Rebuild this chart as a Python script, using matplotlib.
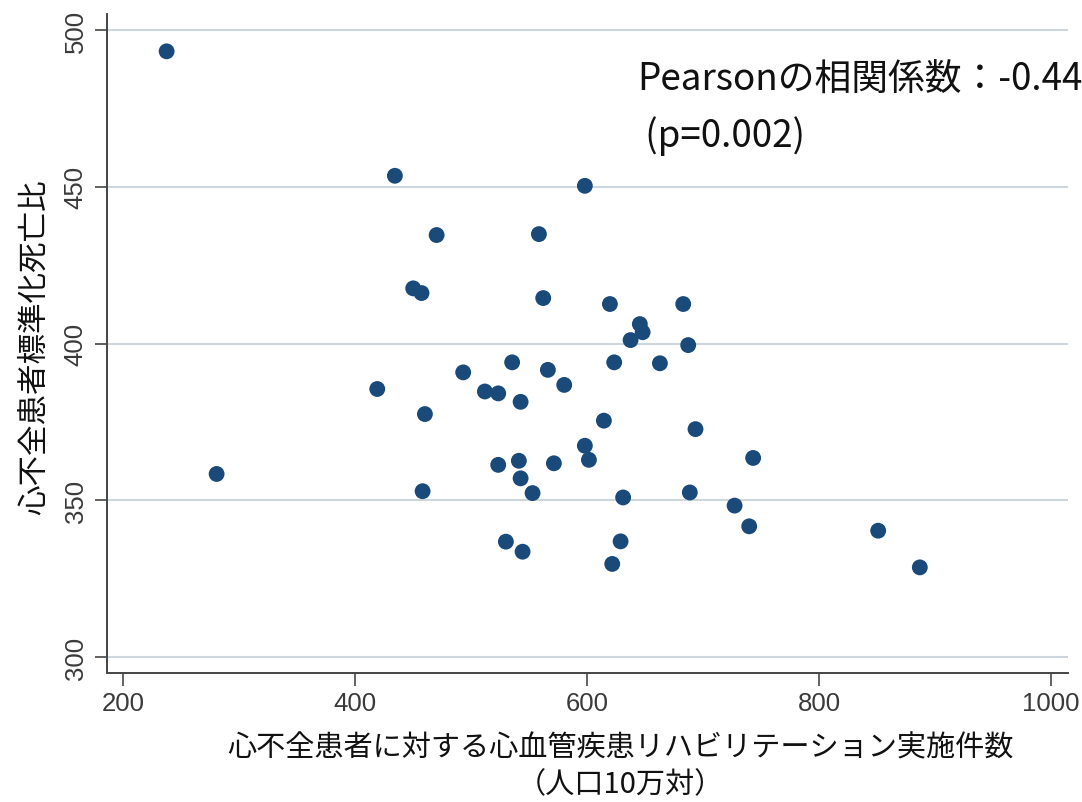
import matplotlib
matplotlib.use("Agg")
import matplotlib.pyplot as plt

# rehabilitation cases per 100k (x) vs standardized mortality ratio (y), 47 prefectures
rehab = [237.4, 280.5, 419.0, 434.2, 450.0, 457.2, 460.1, 458.1, 470.2, 493.1,
         511.8, 523.3, 535.3, 542.6, 523.3, 541.1, 542.6, 552.9, 529.9, 544.3,
         558.4, 562.1, 566.1, 580.2, 571.3, 598.0, 598.0, 601.5, 614.4, 619.6,
         623.3, 628.8, 621.6, 631.0, 637.4, 645.4, 647.8, 662.7, 682.8, 687.1,
         688.5, 693.4, 727.1, 739.7, 743.1, 850.9, 886.8]
smr = [493.2, 358.4, 385.5, 453.5, 417.6, 416.1, 377.5, 352.9, 434.6, 390.8,
       384.7, 384.1, 394.0, 381.4, 361.3, 362.6, 357.0, 352.3, 336.8, 333.6,
       434.9, 414.5, 391.6, 386.8, 361.8, 450.3, 367.4, 362.9, 375.4, 412.6,
       394.0, 336.9, 329.7, 350.9, 401.1, 406.2, 403.6, 393.7, 412.6, 399.5,
       352.5, 372.7, 348.3, 341.7, 363.5, 340.3, 328.6]

xticks = [200, 400, 600, 800, 1000]
yticks = [300, 350, 400, 450, 500]

xlabel = "心不全患者に対する心血管疾患リハビリテーション実施件数"
xlabel2 = "（人口10万対）"
ylabel = "心不全患者標準化死亡比"
note1 = "Pearsonの相関係数：-0.44"
note2 = " (p=0.002)"

jp = ["Noto Sans CJK JP", "DejaVu Sans"]

fig = plt.figure(figsize=(10.82, 8.03), dpi=100)
ax = fig.add_axes([0.0989, 0.1606, 0.8882, 0.8207])

ax.scatter(rehab, smr, s=130, color="#1a4a7a", edgecolors="none", zorder=3)

ax.set_xlim(186, 1014.6)
ax.set_ylim(294.9, 505.1)
ax.set_xticks(xticks)
ax.set_yticks(yticks)
ax.yaxis.grid(True, color="#cdd6dc", linewidth=1.5)
ax.set_axisbelow(True)

for side in ["top", "right"]:
    ax.spines[side].set_visible(False)
for side in ["left", "bottom"]:
    ax.spines[side].set_color("#454545")
    ax.spines[side].set_linewidth(1.4)

ax.tick_params(axis="both", direction="out", length=9, width=1.2, color="#454545",
               labelsize=18.5, labelcolor="#3a3a3a")
ax.tick_params(axis="x", pad=4)
ax.tick_params(axis="y", pad=5)
for lab in ax.get_xticklabels() + ax.get_yticklabels():
    lab.set_family("Liberation Sans")
for lab in ax.get_yticklabels():
    lab.set_rotation(90)
    lab.set_va("center")

fig.text(35 / 1082, 1 - 347 / 803, ylabel, rotation=90, ha="center", va="center",
         fontsize=22, family=jp, color="#111111")
fig.text(620 / 1082, 1 - 748 / 803, xlabel, ha="center", va="center",
         fontsize=21, family=jp, color="#111111")
fig.text(620 / 1082, 1 - 785 / 803, xlabel2, ha="center", va="center",
         fontsize=21, family=jp, color="#111111")

fig.text(637 / 1082, 1 - 91 / 803, note1, ha="left", va="baseline",
         fontsize=26.5, family=jp, color="#111111")
fig.text(637 / 1082, 1 - 147 / 803, note2, ha="left", va="baseline",
         fontsize=26.5, family=jp, color="#111111")

fig.savefig("out.png", dpi=100)
